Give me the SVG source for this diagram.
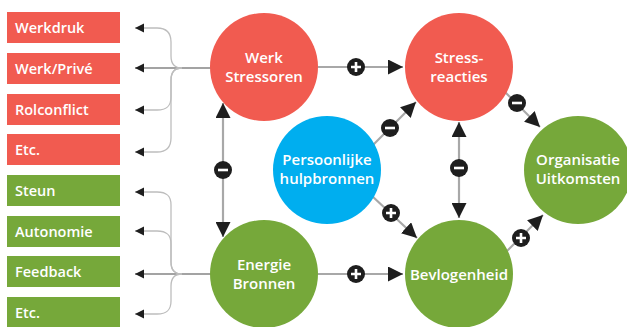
<svg xmlns="http://www.w3.org/2000/svg" xmlns:xlink="http://www.w3.org/1999/xlink" width="627" height="327" viewBox="0 0 627 327">
<defs>
<style>
.box-r{fill:#F15B50}
.box-g{fill:#76A83A}
.c-r{fill:#F15B50}
.c-g{fill:#76A83A}
.c-b{fill:#00AEEF}
.bt{font-family:"Open Sans","Liberation Sans",sans-serif;font-weight:600;font-size:14.5px;fill:#fff}
.ct{font-family:"Open Sans","Liberation Sans",sans-serif;font-weight:600;font-size:15px;fill:#fff;text-anchor:middle}
.main{stroke:#A3A3A3;stroke-width:2;fill:none}
.br{stroke:#BDBDBD;stroke-width:1.3;fill:none}
.link{stroke:#A8A8A8;stroke-width:2.2;fill:none}
</style>
<marker id="ah" markerUnits="userSpaceOnUse" markerWidth="15" markerHeight="15" refX="15" refY="7.5" orient="auto">
<path d="M0,0 L15,7.5 L0,15 z" fill="#1E1E1E"/>
</marker>
<marker id="sh" markerUnits="userSpaceOnUse" markerWidth="10" markerHeight="10" refX="9" refY="4.5" orient="auto">
<path d="M0,0 L9,4.5 L0,9 z" fill="#1E1E1E"/>
</marker>
<g id="plus"><circle r="9" fill="#1E1E1E"/><path d="M-5,0 H5 M0,-5 V5" stroke="#fff" stroke-width="2.6"/></g>
<g id="minus"><circle r="9" fill="#1E1E1E"/><path d="M-5,0 H5" stroke="#fff" stroke-width="2.6"/></g>
</defs>
<rect width="627" height="327" fill="#fff"/>

<g id="connectors">
<path class="main" d="M211,68 L135,68" marker-end="url(#sh)"/>
<path class="br" d="M182,68 C174,68 171,64 171,56 L171,42 C171,33 167,28 157,28 L135,28" marker-end="url(#sh)"/>
<path class="br" d="M182,68 C174,68 171,72 171,80 L171,97 C171,106 167,110 157,110 L135,110" marker-end="url(#sh)"/>
<path class="br" d="M182,68 C174,68 171,72 171,80 L171,138 C171,147 167,152 157,152 L135,152" marker-end="url(#sh)"/>
<path class="main" d="M211,274 L135,274" marker-end="url(#sh)"/>
<path class="br" d="M182,274 C174,274 171,270 171,262 L171,205 C171,196 167,192 157,192 L135,192" marker-end="url(#sh)"/>
<path class="br" d="M182,274 C174,274 171,270 171,262 L171,244 C171,235 167,231 157,231 L135,231" marker-end="url(#sh)"/>
<path class="br" d="M182,274 C174,274 171,278 171,286 L171,301 C171,310 167,314 157,314 L135,314" marker-end="url(#sh)"/>
<path class="link" d="M318,67 L403,67" marker-end="url(#ah)"/>
<use xlink:href="#plus" x="356" y="67"/>
<path class="link" d="M318,274 L403,274" marker-end="url(#ah)"/>
<use xlink:href="#plus" x="356" y="274"/>
<path class="link" d="M223,170 L223,103" marker-end="url(#ah)"/>
<path class="link" d="M223,170 L223,237" marker-end="url(#ah)"/>
<use xlink:href="#minus" x="223" y="170"/>
<path class="link" d="M459,168 L459,122" marker-end="url(#ah)"/>
<path class="link" d="M459,168 L459,218" marker-end="url(#ah)"/>
<use xlink:href="#minus" x="459" y="168"/>
<path class="link" d="M372,146 L416,102" marker-end="url(#ah)"/>
<use xlink:href="#minus" x="390" y="128"/>
<path class="link" d="M372,196 L417,238" marker-end="url(#ah)"/>
<use xlink:href="#plus" x="391" y="213"/>
<path class="link" d="M505,92 L540,127" marker-end="url(#ah)"/>
<use xlink:href="#minus" x="517" y="103"/>
<path class="link" d="M507,251 L543,215" marker-end="url(#ah)"/>
<use xlink:href="#plus" x="521" y="238"/>
</g>

<g id="box-werkdruk"><rect class="box-r" x="7" y="12" width="113" height="31"/><text class="bt" x="15" y="33">Werkdruk</text></g>
<g id="box-werkprive"><rect class="box-r" x="7" y="53" width="113" height="31"/><text class="bt" x="15" y="74">Werk/Privé</text></g>
<g id="box-rolconflict"><rect class="box-r" x="7" y="94" width="113" height="31"/><text class="bt" x="15" y="115">Rolconflict</text></g>
<g id="box-etc1"><rect class="box-r" x="7" y="134" width="113" height="31"/><text class="bt" x="15" y="155">Etc.</text></g>
<g id="box-steun"><rect class="box-g" x="7" y="175" width="113" height="31"/><text class="bt" x="15" y="196">Steun</text></g>
<g id="box-autonomie"><rect class="box-g" x="7" y="216" width="113" height="31"/><text class="bt" x="15" y="237">Autonomie</text></g>
<g id="box-feedback"><rect class="box-g" x="7" y="256" width="113" height="31"/><text class="bt" x="15" y="277">Feedback</text></g>
<g id="box-etc2"><rect class="box-g" x="7" y="297" width="113" height="31"/><text class="bt" x="15" y="318">Etc.</text></g>

<g id="werk-stressoren"><circle class="c-r" cx="264" cy="67" r="54"/><text class="ct" x="264" y="63">Werk</text><text class="ct" x="264" y="82">Stressoren</text></g>
<g id="stress-reacties"><circle class="c-r" cx="459" cy="67" r="54"/><text class="ct" x="459" y="63">Stress-</text><text class="ct" x="459" y="82">reacties</text></g>
<g id="persoonlijke-hulpbronnen"><circle class="c-b" cx="327" cy="170" r="54"/><text class="ct" x="327" y="165">Persoonlijke</text><text class="ct" x="327" y="184">hulpbronnen</text></g>
<g id="organisatie-uitkomsten"><circle class="c-g" cx="578" cy="170" r="54"/><text class="ct" x="578" y="165">Organisatie</text><text class="ct" x="578" y="184">Uitkomsten</text></g>
<g id="energie-bronnen"><circle class="c-g" cx="264" cy="274" r="54"/><text class="ct" x="264" y="270">Energie</text><text class="ct" x="264" y="289">Bronnen</text></g>
<g id="bevlogenheid"><circle class="c-g" cx="459" cy="274" r="54"/><text class="ct" x="459" y="280">Bevlogenheid</text></g>
</svg>
